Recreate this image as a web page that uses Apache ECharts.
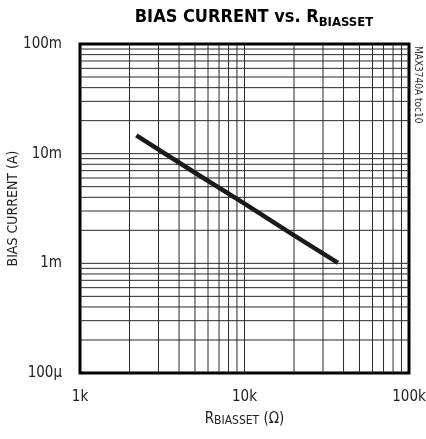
<!DOCTYPE html>
<html>
<head>
<meta charset="utf-8">
<script src="https://cdn.jsdelivr.net/npm/echarts@6/dist/echarts.min.js"></script>
<style>html,body{margin:0;padding:0;background:#fff}#c{width:426px;height:439px}</style>
</head>
<body>
<div id="c"></div>
<script>
// Data: bias current (A) vs. R_BIASSET (ohm)
const rBiasset = [2200, 5000, 10000, 20000, 37000];
const biasCurrent = [0.0147, 0.0067, 0.0035, 0.0018, 0.00101];
// Tick labels
const xTickValues = [1000, 10000, 100000];
const xTickLabels = ['1k', '10k', '100k'];
const yTickValues = [0.0001, 0.001, 0.01, 0.1];
const yTickLabels = ['100µ', '1m', '10m', '100m'];
// Grid lines (1..9 per decade)
const xGrid = [2000,3000,4000,5000,6000,7000,8000,9000,10000,20000,30000,40000,50000,60000,70000,80000,90000];
const yGrid = [0.0002,0.0003,0.0004,0.0005,0.0006,0.0007,0.0008,0.0009,0.001,0.002,0.003,0.004,0.005,0.006,0.007,0.008,0.009,0.01,0.02,0.03,0.04,0.05,0.06,0.07,0.08,0.09];
const xMin = 1000, xMax = 100000, yMin = 0.0001, yMax = 0.1;

const FONT = "'Liberation Sans Narrow','DejaVu Sans Condensed','Liberation Sans',sans-serif";
const chart = echarts.init(document.getElementById('c'), null, {renderer: 'canvas'});
function lbl(v, vals, labels) {
  for (let i = 0; i < vals.length; i++) if (Math.abs(Math.log10(v) - Math.log10(vals[i])) < 1e-6) return labels[i];
  return '';
}
const gridLineStyle = {color: '#2a2a2a', width: 1};
const gridSeries = [];
xGrid.forEach(v => gridSeries.push({type: 'line', silent: true, showSymbol: false, lineStyle: gridLineStyle, data: [[v, yMin], [v, yMax]], z: 1}));
yGrid.forEach(v => gridSeries.push({type: 'line', silent: true, showSymbol: false, lineStyle: gridLineStyle, data: [[xMin, v], [xMax, v]], z: 1}));

chart.setOption({
  animation: false,
  title: {
    text: '{a|BIAS CURRENT vs. R}{b|BIASSET}',
    left: 249, top: -3, textAlign: 'center',
    textStyle: {
      rich: {
        a: {fontFamily: FONT, fontWeight: 'bold', fontSize: 18, color: '#000', verticalAlign: 'bottom', lineHeight: 24},
        b: {fontFamily: FONT, fontWeight: 'bold', fontSize: 13, color: '#000', verticalAlign: 'bottom', lineHeight: 24, padding: [0,0,-3,0]}
      }
    }
  },
  graphic: [{
    type: 'text', left: 413, top: 46, rotation: -Math.PI/2, originX: 0, originY: 0,
    style: {text: 'MAX3740A toc10', font: "10px " + FONT, fill: '#333'}
  }],
  grid: {left: 80, top: 44, width: 329, height: 329, show: true, borderColor: '#000', borderWidth: 3, backgroundColor: 'transparent', outerBoundsMode: 'none', containLabel: false},
  xAxis: {
    type: 'log', logBase: 10, min: xMin, max: xMax,
    axisLine: {show: false}, axisTick: {show: false}, splitLine: {show: false},
    axisLabel: {fontFamily: FONT, fontSize: 15, color: '#222', margin: 17, formatter: v => lbl(v, xTickValues, xTickLabels)},
    name: '{r|R}{s|BIASSET}{r| (Ω)}', nameLocation: 'middle', nameGap: 38, nameMoveOverlap: false,
    nameTextStyle: {rich: {r: {fontFamily: FONT, fontSize: 15, color: '#222'}, s: {fontFamily: FONT, fontSize: 12, color: '#222', padding: [4,0,0,0]}}}
  },
  yAxis: {
    type: 'log', logBase: 10, min: yMin, max: yMax,
    axisLine: {show: false}, axisTick: {show: false}, splitLine: {show: false},
    axisLabel: {fontFamily: FONT, fontSize: 15, color: '#222', margin: 18, formatter: v => lbl(v, yTickValues, yTickLabels)},
    name: 'BIAS CURRENT (A)', nameLocation: 'middle', nameGap: 60, nameMoveOverlap: false,
    nameTextStyle: {fontFamily: FONT, fontSize: 14, color: '#222'}
  },
  series: gridSeries.concat([
    {
      type: 'line', data: rBiasset.map((x, i) => [x, biasCurrent[i]]),
      showSymbol: false, lineStyle: {color: '#1a1a1a', width: 4.5}, z: 5
    }
  ])
});
</script>
</body>
</html>
